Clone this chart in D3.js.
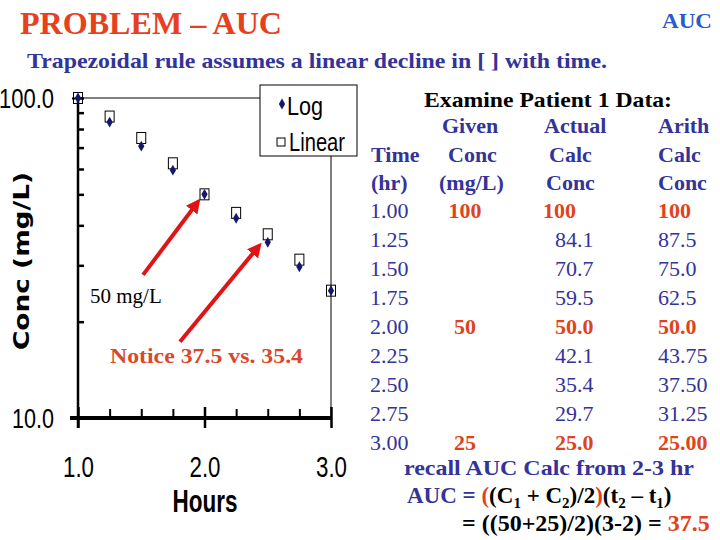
<!doctype html>
<html>
<head>
<meta charset="utf-8">
<title>PROBLEM - AUC</title>
<style>
* {padding:0;margin:0}
body {background:#fff}
text {font-family:"Liberation Serif","Times New Roman",serif}
.narrow {font-family:"Liberation Sans Narrow","Arial Narrow","Liberation Sans",sans-serif}
</style>
</head>
<body>
<div id="chart"></div>
<script src="https://d3js.org/d3.v7.min.js"></script>
<script>
	// data from the slide
	const times = ["1.00", "1.25", "1.50", "1.75", "2.00", "2.25", "2.50", "2.75", "3.00"];
	const hours = [1.00, 1.25, 1.50, 1.75, 2.00, 2.25, 2.50, 2.75, 3.00];
	const given = ["100", "", "", "", "50", "", "", "", "25"];
	const actual = [100, 84.1, 70.7, 59.5, 50.0, 42.1, 35.4, 29.7, 25.0];
	const actualLabels = ["100", "84.1", "70.7", "59.5", "50.0", "42.1", "35.4", "29.7", "25.0"];
	const arith = [100, 87.5, 75.0, 62.5, 50.0, 43.75, 37.50, 31.25, 25.00];
	const arithLabels = ["100", "87.5", "75.0", "62.5", "50.0", "43.75", "37.50", "31.25", "25.00"];
	const xTicks = [1.0, 2.0, 3.0];
	const xMinor = [1.25, 1.5, 1.75, 2.25, 2.5, 2.75];
	const yTicks = [10, 100];
	const yMinor = [20, 30, 40, 50, 60, 70, 80, 90];

	const navy = "#333399", red = "#e0431c", dot = "#16166e";

	const svg = d3.select("#chart").append("svg")
		.attr("width", 720).attr("height", 540);

	// titles
	svg.append("text").attr("x", 20).attr("y", 34)
		.attr("font-size", 31).attr("font-weight", "bold").attr("fill", "#e8401c")
		.attr("textLength", 262).attr("lengthAdjust", "spacingAndGlyphs")
		.text("PROBLEM – AUC");
	svg.append("text").attr("x", 662).attr("y", 28)
		.attr("font-size", 21).attr("font-weight", "bold").attr("fill", "#2a5bc8")
		.attr("textLength", 50).attr("lengthAdjust", "spacingAndGlyphs")
		.text("AUC");
	svg.append("text").attr("x", 27).attr("y", 68)
		.attr("font-size", 22).attr("font-weight", "bold").attr("fill", navy)
		.attr("textLength", 580).attr("lengthAdjust", "spacingAndGlyphs")
		.text("Trapezoidal rule assumes a linear decline in [ ] with time.");

	// ---- plot ----
	const x = d3.scaleLinear().domain([1, 3]).range([78, 331]);
	const y = d3.scaleLog().domain([10, 100]).range([418, 98]);

	// frame: top and right
	svg.append("line").attr("x1", x(1)).attr("x2", x(3)).attr("y1", y(100)).attr("y2", y(100))
		.attr("stroke", "#000").attr("stroke-width", 1);
	svg.append("line").attr("x1", x(3)).attr("x2", x(3)).attr("y1", y(100)).attr("y2", y(10))
		.attr("stroke", "#000").attr("stroke-width", 1);

	// left axis
	const yAxis = svg.append("g").attr("transform", "translate(" + x(1) + ",0)")
		.call(d3.axisLeft(y).tickValues(yTicks).tickSize(6).tickPadding(18).tickFormat(d3.format(".1f")));
	yAxis.select(".domain").remove();
	yAxis.selectAll("line").attr("stroke-width", 2);
	yAxis.selectAll("text").attr("class", "narrow").attr("font-size", 27).attr("fill", "#000")
		.attr("dy", "0.36em")
		.attr("textLength", d => d === 100 ? 55 : 42).attr("lengthAdjust", "spacingAndGlyphs");
	const yMin = svg.append("g").attr("transform", "translate(" + x(1) + ",0)")
		.call(d3.axisRight(y).tickValues(yMinor.concat(yTicks)).tickSize(6).tickFormat(""));
	yMin.select(".domain").remove();
	yMin.selectAll("line").attr("stroke-width", 2.5);
	svg.append("line").attr("x1", x(1)).attr("x2", x(1)).attr("y1", y(100)).attr("y2", y(10) + 10)
		.attr("stroke", "#000").attr("stroke-width", 2.5);

	// bottom axis
	const xAxis = svg.append("g").attr("transform", "translate(0," + y(10) + ")")
		.call(d3.axisBottom(x).tickValues(xTicks).tickSize(10).tickPadding(28).tickFormat(d3.format(".1f")));
	xAxis.select(".domain").remove();
	xAxis.selectAll("line").attr("stroke-width", 2.5);
	xAxis.selectAll("text").attr("class", "narrow").attr("font-size", 29).attr("fill", "#000")
		.attr("textLength", 31).attr("lengthAdjust", "spacingAndGlyphs");
	const xMin = svg.append("g").attr("transform", "translate(0," + y(10) + ")")
		.call(d3.axisTop(x).tickValues(xMinor).tickSize(9).tickFormat(""));
	xMin.select(".domain").remove();
	xMin.selectAll("line").attr("stroke-width", 2);
	const xMaj = svg.append("g").attr("transform", "translate(0," + y(10) + ")")
		.call(d3.axisTop(x).tickValues(xTicks).tickSize(11).tickFormat(""));
	xMaj.select(".domain").remove();
	xMaj.selectAll("line").attr("stroke-width", 2.5);
	svg.append("line").attr("x1", 70).attr("x2", x(3)).attr("y1", y(10)).attr("y2", y(10))
		.attr("stroke", "#000").attr("stroke-width", 4);

	// axis titles
	svg.append("text").attr("class", "narrow").attr("x", 205).attr("y", 512)
		.attr("text-anchor", "middle").attr("font-size", 31).attr("font-weight", "bold")
		.attr("textLength", 65).attr("lengthAdjust", "spacingAndGlyphs")
		.text("Hours");
	svg.append("text").attr("transform", "translate(29,261) rotate(-90)")
		.attr("text-anchor", "middle").attr("font-size", 21)
		.attr("font-weight", "bold").attr("textLength", 178).attr("lengthAdjust", "spacingAndGlyphs")
		.style("font-family", "'DejaVu Sans',sans-serif")
		.text("Conc (mg/L)");

	// linear (arith) points: open squares
	svg.append("g").selectAll("rect").data(arith).enter().append("rect")
		.attr("x", (d, i) => x(hours[i]) - 4.5)
		.attr("y", d => y(d) - 5.5)
		.attr("width", 9).attr("height", 11)
		.attr("fill", "none").attr("stroke", "#000").attr("stroke-width", 1);

	// log (actual) points: diamonds
	svg.append("g").selectAll("path").data(actual).enter().append("path")
		.attr("d", d3.symbol(d3.symbolDiamond, 34))
		.attr("transform", (d, i) => "translate(" + x(hours[i]) + "," + y(d) + ")")
		.attr("fill", dot);

	// legend
	const lg = svg.append("g").attr("transform", "translate(260,85)");
	lg.append("rect").attr("width", 97).attr("height", 71)
		.attr("fill", "#fff").attr("stroke", "#000").attr("stroke-width", 1);
	lg.append("path").attr("d", d3.symbol(d3.symbolDiamond, 34))
		.attr("transform", "translate(22,19)").attr("fill", dot);
	lg.append("rect").attr("x", 17).attr("y", 53).attr("width", 8).attr("height", 8)
		.attr("fill", "none").attr("stroke", "#000");
	lg.append("text").attr("class", "narrow").attr("x", 27).attr("y", 30)
		.attr("font-size", 26).attr("textLength", 36).attr("lengthAdjust", "spacingAndGlyphs").text("Log");
	lg.append("text").attr("class", "narrow").attr("x", 29).attr("y", 66)
		.attr("font-size", 26).attr("textLength", 56).attr("lengthAdjust", "spacingAndGlyphs").text("Linear");

	// red arrows (in data coordinates)
	const arrows = [
		{from: [1.514, 28.0], to: [1.94, 46.9]},
		{from: [1.806, 17.3], to: [2.423, 34.2]}
	];
	svg.append("defs").append("marker").attr("id", "head")
		.attr("viewBox", "0 0 10 10").attr("refX", 6).attr("refY", 5)
		.attr("markerWidth", 3.6).attr("markerHeight", 3.6).attr("orient", "auto")
		.append("path").attr("d", "M0,0L10,5L0,10z").attr("fill", "#e01414");
	svg.append("g").selectAll("line").data(arrows).enter().append("line")
		.attr("x1", d => x(d.from[0])).attr("y1", d => y(d.from[1]))
		.attr("x2", d => x(d.to[0])).attr("y2", d => y(d.to[1]))
		.attr("stroke", "#e01414").attr("stroke-width", 4)
		.attr("marker-end", "url(#head)");

	svg.append("text").attr("x", 90).attr("y", 303).attr("font-size", 21).attr("fill", "#000")
		.text("50 mg/L");
	svg.append("text").attr("x", 110).attr("y", 363).attr("font-size", 20).attr("font-weight", "bold")
		.attr("fill", "#d9482a").attr("textLength", 193).attr("lengthAdjust", "spacingAndGlyphs")
		.text("Notice 37.5 vs. 35.4");

	// ---- table ----
	svg.append("text").attr("x", 424).attr("y", 107).attr("font-size", 22).attr("font-weight", "bold")
		.attr("textLength", 248).attr("lengthAdjust", "spacingAndGlyphs")
		.text("Examine Patient 1 Data:");

	const headers = [
		[null, "Given", "Actual", "Arith"],
		["Time", "Conc", "Calc", "Calc"],
		["(hr)", "(mg/L)", "Conc", "Conc"]
	];
	const headX = [
		[0, 442, 544, 658],
		[371, 448, 549, 658],
		[371, 439, 546, 658]
	];
	const headY = [133, 162, 190];
	headers.forEach(function(row, r) {
		row.forEach(function(t, c) {
			if (!t) return;
			svg.append("text").attr("x", headX[r][c]).attr("y", headY[r])
				.attr("font-size", 22).attr("font-weight", "bold").attr("fill", navy).text(t);
		});
	});

	const rowY = d3.scaleLinear().domain([0, times.length - 1]).range([218, 450]);
	const rows = svg.append("g").selectAll("g").data(times).enter().append("g")
		.attr("transform", (d, i) => "translate(0," + rowY(i) + ")");
	rows.append("text").attr("x", 370).attr("font-size", 22).attr("fill", navy).text(d => d);
	rows.append("text").attr("x", 465).attr("text-anchor", "middle")
		.attr("font-size", 22).attr("font-weight", "bold").attr("fill", red)
		.text((d, i) => given[i]);
	rows.append("text").attr("x", (d, i) => i === 0 ? 543 : 555)
		.attr("font-size", 22)
		.attr("font-weight", (d, i) => given[i] ? "bold" : "normal")
		.attr("fill", (d, i) => given[i] ? red : navy)
		.text((d, i) => actualLabels[i]);
	rows.append("text").attr("x", 658)
		.attr("font-size", 22)
		.attr("font-weight", (d, i) => given[i] ? "bold" : "normal")
		.attr("fill", (d, i) => given[i] ? red : navy)
		.text((d, i) => arithLabels[i]);

	// AUC recall
	svg.append("text").attr("x", 404).attr("y", 475).attr("font-size", 22).attr("font-weight", "bold")
		.attr("fill", navy).attr("textLength", 290).attr("lengthAdjust", "spacingAndGlyphs")
		.text("recall AUC Calc from 2-3 hr");

	const f1 = svg.append("text").attr("x", 407).attr("y", 503).attr("font-size", 23)
		.attr("font-weight", "bold").attr("fill", "#000");
	f1.append("tspan").attr("fill", navy).text("AUC = ");
	f1.append("tspan").attr("fill", red).text("(");
	f1.append("tspan").text("(C");
	f1.append("tspan").attr("font-size", 15).attr("dy", 5).text("1");
	f1.append("tspan").attr("dy", -5).text(" + C");
	f1.append("tspan").attr("font-size", 15).attr("dy", 5).text("2");
	f1.append("tspan").attr("dy", -5).text(")/2");
	f1.append("tspan").attr("fill", red).text(")");
	f1.append("tspan").text("(t");
	f1.append("tspan").attr("font-size", 15).attr("dy", 5).text("2");
	f1.append("tspan").attr("dy", -5).text(" – t");
	f1.append("tspan").attr("font-size", 15).attr("dy", 5).text("1");
	f1.append("tspan").attr("dy", -5).text(")");

	const f2 = svg.append("text").attr("x", 462).attr("y", 531).attr("font-size", 24)
		.attr("font-weight", "bold").attr("fill", "#000");
	f2.append("tspan").text("= ((50+25)/2)(3-2) = ");
	f2.append("tspan").attr("fill", red).text("37.5");
</script>
</body>
</html>
